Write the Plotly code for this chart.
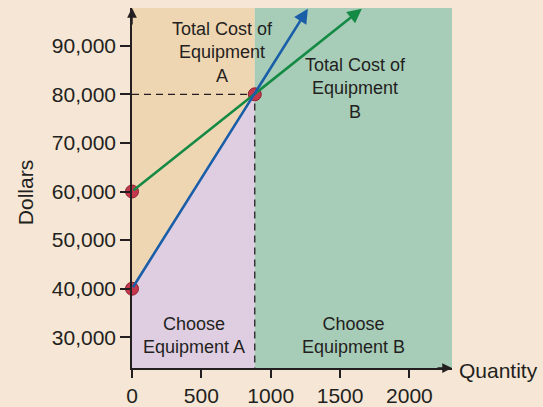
import plotly.graph_objects as go

# Data
fixed_a = 40000
fixed_b = 60000
breakeven_q = 885
breakeven_cost = 80000
end_a = (1268, 97600)
end_b = (1657, 97600)
x_ticks = [0, 500, 1000, 1500, 2000]
y_ticks = [30000, 40000, 50000, 60000, 70000, 80000, 90000]
y_tick_labels = ["30,000", "40,000", "50,000", "60,000", "70,000", "80,000", "90,000"]
x_range = [0, 2307]
y_range = [23680, 97760]

BG = "#f5e6d5"
TAN = "#efd6b3"
LAV = "#dfcee2"
GRN = "#a7cdb9"
BLUE = "#1a5ea8"
GREEN = "#158a45"
RED = "#c5374b"
INK = "#231f20"
FONT = "Liberation Sans, Arial, sans-serif"

fig = go.Figure()
x0, x1 = x_range
y0, y1 = y_range
# Regions
fig.add_trace(go.Scatter(x=[0, 0, breakeven_q, breakeven_q, 0], y=[y1, fixed_a, breakeven_cost, y1, y1],
                         fill="toself", fillcolor=TAN, line=dict(width=0), mode="lines", hoverinfo="skip"))
fig.add_trace(go.Scatter(x=[0, 0, breakeven_q, breakeven_q, 0], y=[y0, fixed_a, breakeven_cost, y0, y0],
                         fill="toself", fillcolor=LAV, line=dict(width=0), mode="lines", hoverinfo="skip"))
fig.add_trace(go.Scatter(x=[breakeven_q, breakeven_q, x1, x1, breakeven_q], y=[y0, y1, y1, y0, y0],
                         fill="toself", fillcolor=GRN, line=dict(width=0), mode="lines", hoverinfo="skip"))
# Dashed guides
fig.add_trace(go.Scatter(x=[0, breakeven_q, breakeven_q], y=[breakeven_cost, breakeven_cost, y0],
                         mode="lines", line=dict(color=INK, width=1.3, dash="7px,5px"), hoverinfo="skip"))

annotations = []
# Cost lines with arrowheads
for (fx, color, end) in [(fixed_b, GREEN, end_b), (fixed_a, BLUE, end_a)]:
    annotations.append(dict(x=end[0], y=end[1], ax=0, ay=fx, xref="x", yref="y", axref="x", ayref="y",
                            showarrow=True, arrowhead=2, arrowsize=1.1, arrowwidth=2.6, arrowcolor=color, text=""))
fig.add_trace(go.Scatter(x=[0, breakeven_q, 0], y=[fixed_a, breakeven_cost, fixed_b], mode="markers",
                         marker=dict(color=RED, size=13, line=dict(color="#8a2030", width=1)),
                         cliponaxis=False, hoverinfo="skip"))

# Axis arrows
annotations.append(dict(x=1.0, y=0, xref="x domain", yref="y domain", ax=0.95, ay=0,
                        axref="x domain", ayref="y domain",
                        showarrow=True, arrowhead=2, arrowsize=1.3, arrowwidth=1.5, arrowcolor=INK, text=""))
annotations.append(dict(x=0, y=1.0, xref="x domain", yref="y domain", ax=0, ay=0.95,
                        axref="x domain", ayref="y domain",
                        showarrow=True, arrowhead=2, arrowsize=1.3, arrowwidth=1.5, arrowcolor=INK, text=""))

txt = dict(showarrow=False, font=dict(family=FONT, size=18, color=INK), xref="x", yref="y")
annotations.append(dict(x=654, y=88700, text="Total Cost of<br>Equipment<br>A", **txt))
annotations.append(dict(x=1611, y=81100, text="Total Cost of<br>Equipment<br>B", **txt))
annotations.append(dict(x=444, y=30270, text="Choose<br>Equipment A", **txt))
annotations.append(dict(x=1600, y=30270, text="Choose<br>Equipment B", **txt))
annotations.append(dict(x=1.016, y=-0.006, xref="paper", yref="paper", xanchor="left", yanchor="middle",
                        text="Quantity", showarrow=False, font=dict(family=FONT, size=21, color=INK)))
annotations.append(dict(x=-0.334, y=0.486, xref="paper", yref="paper", xanchor="center", yanchor="middle",
                        text="Dollars", textangle=-90, showarrow=False, font=dict(family=FONT, size=21, color=INK)))

fig.update_layout(
    width=543, height=407, autosize=False,
    margin=dict(l=132, r=91, t=8, b=39),
    paper_bgcolor=BG, plot_bgcolor=BG,
    showlegend=False,
    annotations=annotations,
    xaxis=dict(range=x_range, tickvals=x_ticks, ticktext=[str(v) for v in x_ticks], showgrid=False, zeroline=False,
               showline=True, linecolor=INK, linewidth=1.5, ticks="outside", ticklen=8, tickcolor=INK,
               tickwidth=1.5, automargin=False, tickfont=dict(family=FONT, size=21, color=INK)),
    yaxis=dict(range=y_range, tickvals=y_ticks, ticktext=y_tick_labels, showgrid=False, zeroline=False,
               showline=True, linecolor=INK, linewidth=1.5, ticks="outside", ticklen=10, tickcolor=INK,
               tickwidth=1.5, automargin=False, tickfont=dict(family=FONT, size=21, color=INK)),
)
fig.write_html("out.html", config={"displayModeBar": False, "responsive": False},
               post_script="document.body.style.margin='0';document.body.style.overflow='hidden';"
                           "document.body.style.background='" + BG + "';")
